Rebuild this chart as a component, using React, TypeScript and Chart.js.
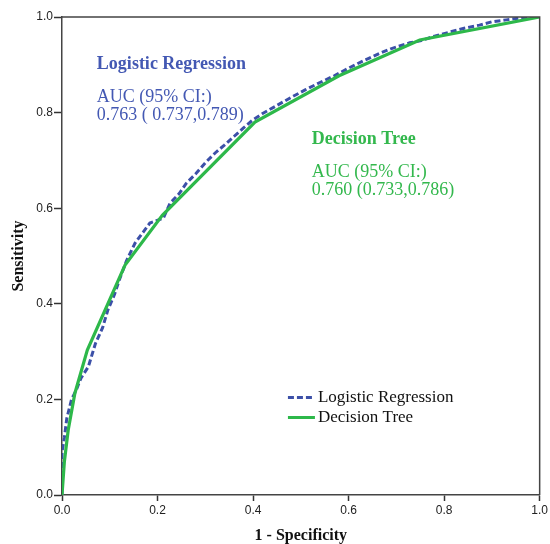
import React, { useEffect, useRef } from "react";
import { Chart, registerables } from "chart.js";
Chart.register(...registerables);

const seriesLabels = ["Logistic Regression", "Decision Tree"];
const tickValues = [0, 0.2, 0.4, 0.6, 0.8, 1.0];

const lrFpr = [0, 0, 0.005, 0.01, 0.02, 0.03, 0.04, 0.055, 0.07, 0.085, 0.096, 0.11, 0.12, 0.135, 0.153, 0.17, 0.184, 0.212, 0.226, 0.245, 0.26, 0.28, 0.3, 0.32, 0.34, 0.36, 0.38, 0.4, 0.42, 0.45, 0.48, 0.51, 0.54, 0.57, 0.6, 0.63, 0.665, 0.69, 0.728, 0.75, 0.78, 0.81, 0.84, 0.874, 0.9, 0.93, 0.96, 0.98, 1];
const lrTpr = [0, 0.09, 0.12, 0.16, 0.2, 0.22, 0.245, 0.268, 0.317, 0.35, 0.387, 0.42, 0.45, 0.49, 0.527, 0.55, 0.569, 0.579, 0.61, 0.63, 0.652, 0.672, 0.695, 0.715, 0.732, 0.75, 0.768, 0.785, 0.798, 0.815, 0.832, 0.848, 0.863, 0.877, 0.893, 0.908, 0.924, 0.934, 0.946, 0.95, 0.96, 0.968, 0.976, 0.983, 0.99, 0.994, 0.998, 1, 1];

const dtFpr = [0, 0.005, 0.013, 0.027, 0.053, 0.132, 0.21, 0.404, 0.58, 0.749, 1];
const dtTpr = [0, 0.07, 0.136, 0.213, 0.303, 0.481, 0.585, 0.78, 0.877, 0.952, 1];

const lrNote = ["Logistic Regression", "AUC (95% CI:)", "0.763 ( 0.737,0.789)"];
const dtNote = ["Decision Tree", "AUC (95% CI:)", "0.760 (0.733,0.786)"];

const BLUE = "#3c50a8";
const GREEN = "#2db84a";
const BLUE_TXT = "#4358b3";
const GREEN_TXT = "#33b84d";

export default function App() {
  const ref = useRef<HTMLCanvasElement | null>(null);
  useEffect(() => {
    document.body.style.margin = "0";
    const canvas = ref.current!;
    const framePlugin = {
      id: "frame",
      afterDatasetsDraw(chart: any) {
        const { ctx, chartArea: a } = chart;
        ctx.save();
        ctx.strokeStyle = "#444";
        ctx.lineWidth = 1.5;
        ctx.beginPath();
        ctx.moveTo(a.left, a.top);
        ctx.lineTo(a.right, a.top);
        ctx.lineTo(a.right, a.bottom);
        ctx.stroke();
        ctx.restore();
      },
      afterDraw(chart: any) {
        const { ctx } = chart;
        const xs = chart.scales.x;
        const ys = chart.scales.y;
        ctx.save();
        ctx.textBaseline = "middle";
        ctx.textAlign = "left";
        const drawNote = (lines: string[], color: string, vx: number, vy: number) => {
          const px = xs.getPixelForValue(vx);
          const py = ys.getPixelForValue(vy);
          ctx.fillStyle = color;
          ctx.font = "bold 18px 'Liberation Serif'";
          ctx.fillText(lines[0], px, py);
          ctx.font = "18px 'Liberation Serif'";
          ctx.fillText(lines[1], px, py + 33);
          ctx.fillText(lines[2], px, py + 51);
        };
        drawNote(lrNote, BLUE_TXT, 0.073, 0.902);
        drawNote(dtNote, GREEN_TXT, 0.523, 0.745);
        const lx = xs.getPixelForValue(0.473);
        const ly = ys.getPixelForValue(0.204);
        const items = [
          { label: chart.data.datasets[0].label, color: BLUE, dash: [6, 3] },
          { label: chart.data.datasets[1].label, color: GREEN, dash: [] },
        ];
        items.forEach((it, i) => {
          const y = ly + i * 20;
          ctx.strokeStyle = it.color;
          ctx.lineWidth = 3;
          ctx.setLineDash(it.dash);
          ctx.beginPath();
          ctx.moveTo(lx, y);
          ctx.lineTo(lx + 27, y);
          ctx.stroke();
          ctx.setLineDash([]);
          ctx.fillStyle = "#111";
          ctx.font = "17px 'Liberation Serif'";
          ctx.fillText(it.label, lx + 30, y);
        });
        ctx.restore();
      },
    };

    const chart = new Chart(canvas, {
      type: "line",
      data: {
        datasets: [
          {
            label: seriesLabels[0],
            data: lrFpr.map((x, i) => ({ x, y: lrTpr[i] })),
            borderColor: BLUE,
            borderWidth: 3,
            borderDash: [6, 3],
            pointRadius: 0,
            tension: 0,
            order: 1,
          },
          {
            label: seriesLabels[1],
            data: dtFpr.map((x, i) => ({ x, y: dtTpr[i] })),
            borderColor: GREEN,
            borderWidth: 3.2,
            pointRadius: 0,
            tension: 0,
            order: 0,
          },
        ],
      },
      options: {
        animation: false,
        responsive: false,
        layout: { padding: { top: 17, right: 10, left: 0, bottom: 0 } },
        plugins: { legend: { display: false }, tooltip: { enabled: false } },
        scales: {
          x: {
            type: "linear",
            min: 0,
            max: 1,
            afterBuildTicks: (s: any) => {
              s.ticks = tickValues.map((v) => ({ value: v }));
            },
            afterFit: (s: any) => {
              s.height = 49;
            },
            ticks: {
              callback: (v: any) => Number(v).toFixed(1),
              font: { family: "'Liberation Sans'", size: 12 },
              color: "#222",
              padding: 2,
              maxRotation: 0,
            },
            grid: { drawOnChartArea: false, tickLength: 6, tickColor: "#333", tickWidth: 1.5 },
            border: { color: "#444", width: 1.5 },
            title: {
              display: true,
              text: "1 - Specificity",
              font: { family: "'Liberation Serif'", size: 16, weight: "bold", lineHeight: 1 },
              color: "#111",
              padding: { top: 0, bottom: 0 },
            },
          },
          y: {
            type: "linear",
            min: 0,
            max: 1,
            afterBuildTicks: (s: any) => {
              s.ticks = tickValues.map((v) => ({ value: v }));
            },
            afterFit: (s: any) => {
              s.width = 62;
            },
            ticks: {
              callback: (v: any) => Number(v).toFixed(1),
              font: { family: "'Liberation Sans'", size: 12 },
              color: "#222",
              padding: 1,
            },
            grid: { drawOnChartArea: false, tickLength: 8, tickColor: "#333", tickWidth: 1.5 },
            border: { color: "#444", width: 1.5 },
            title: {
              display: true,
              text: "Sensitivity",
              font: { family: "'Liberation Serif'", size: 16, weight: "bold", lineHeight: 1 },
              color: "#111",
              padding: { top: 11, bottom: 0 },
            },
          },
        },
      },
      plugins: [framePlugin],
    } as any);
    return () => chart.destroy();
  }, []);
  return <canvas ref={ref} width={550} height={544} style={{ display: "block", width: 550, height: 544 }} />;
}
